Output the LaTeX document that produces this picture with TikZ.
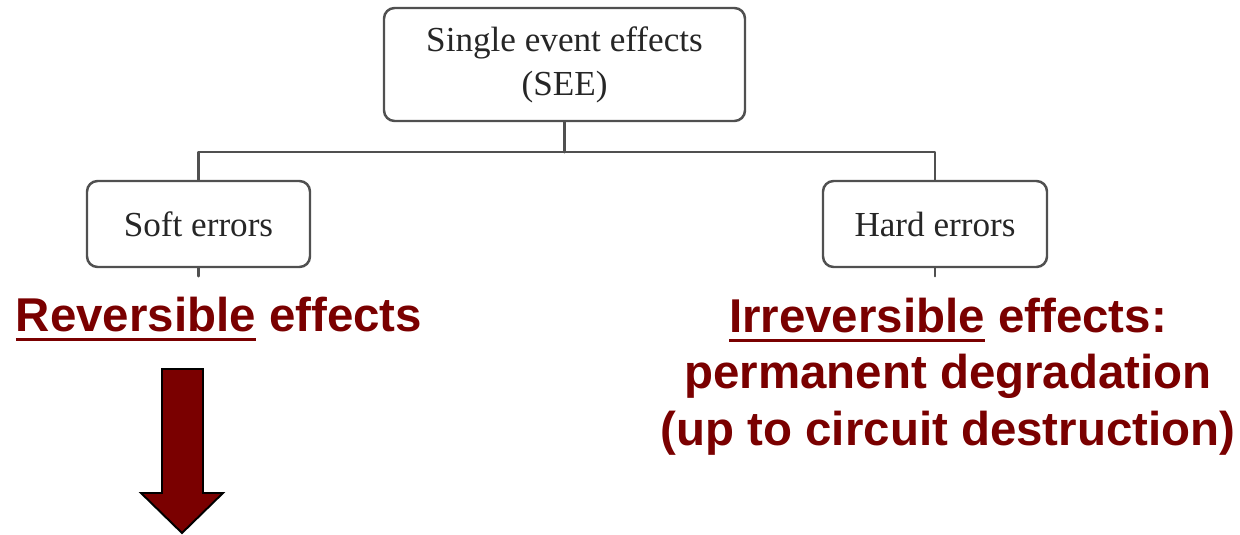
\documentclass[tikz,border=0pt]{standalone}
\usepackage{fontspec}
\setmainfont{Liberation Serif}
\setsansfont{Liberation Sans}
\definecolor{darkred}{RGB}{122,0,0}
\definecolor{boxgray}{RGB}{80,80,80}
\newcommand\ulword[1]{\setbox0\hbox{#1}\rlap{\rule[-0.19cm]{\wd0}{0.06cm}}#1}
\begin{document}
\begin{tikzpicture}[line join=round,line cap=round,
	box/.style={draw=boxgray,line width=1.4pt,rounded corners=6pt,fill=white,align=center,text=black!85,font=\fontsize{20}{25}\selectfont},
	wire/.style={draw=boxgray,line width=1.4pt},
	effect/.style={text=darkred,align=center,font=\sffamily\bfseries\fontsize{27}{32}\selectfont}]
		\useasboundingbox (0,0) rectangle (24.8,-10.68);
		\node[box,minimum width=7.22cm,minimum height=2.26cm] (see) at (11.29,-1.29) {Single event effects\\(SEE)};
		\node[box,minimum width=4.46cm,minimum height=1.72cm] (soft) at (3.97,-4.48) {Soft errors};
		\node[box,minimum width=4.48cm,minimum height=1.72cm] (hard) at (18.7,-4.48) {Hard errors};
		\draw[wire] (see.south)--++(0,-0.6) coordinate (bus);
		\draw[wire] (soft.north)|-(bus)-|(hard.north);
		\draw[wire] (soft.south)--++(0,-0.16);
		\draw[wire] (hard.south)--++(0,-0.16);
		\node[effect,anchor=base] (rev) at (4.38,-6.62) {\ulword{Reversible} effects};
		\node[effect,anchor=base] (irr) at (18.96,-8.9) {\ulword{Irreversible} effects:\\permanent degradation\\(up to circuit destruction)};
		\draw[fill=darkred,line width=1.1pt,line join=miter] (3.24,-7.38)--(4.06,-7.38)--(4.06,-9.86)--(4.46,-9.86)--(3.64,-10.66)--(2.82,-9.86)--(3.24,-9.86)--cycle;
		\end{tikzpicture}
\end{document}
